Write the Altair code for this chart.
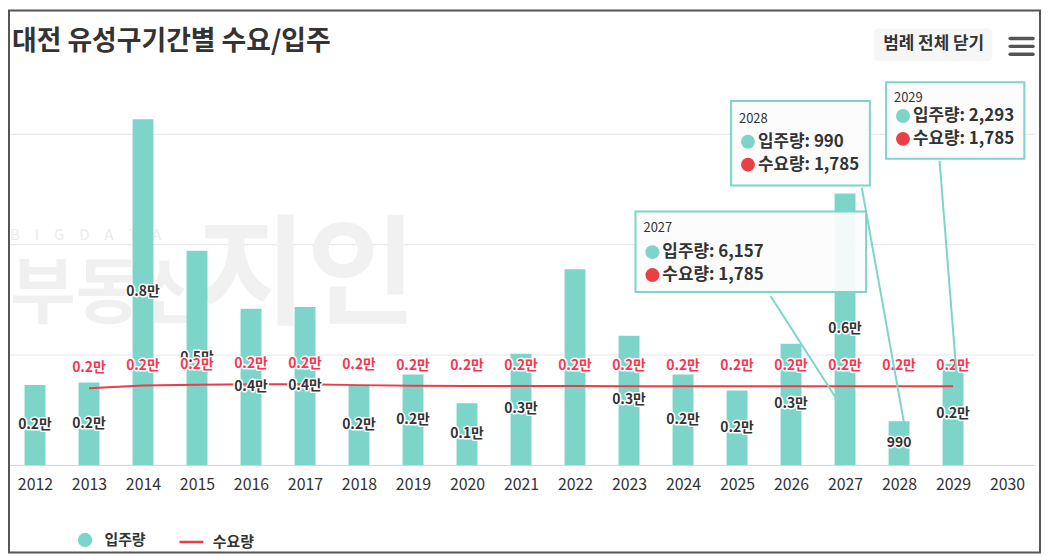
import altair as alt
import pandas as pd

FONT = "Noto Sans CJK KR"

# ---------------- data ----------------
years = list(range(2012, 2031))
supply = [1810, 1870, 7840, 4860, 3540, 3580, 1800, 2050, 1400, 2520,
          4440, 2930, 2050, 1690, 2750, 6157, 990, 2293, None]
supply_labels = ["0.2만", "0.2만", "0.8만", "0.5만", "0.4만", "0.4만", "0.2만", "0.2만", "0.1만", "0.3만",
                 "", "0.3만", "0.2만", "0.2만", "0.3만", "0.6만", "990", "0.2만", ""]
demand_years = list(range(2013, 2030))
demand = [1740, 1800, 1820, 1830, 1830, 1810, 1795, 1790, 1790, 1790,
          1785, 1785, 1785, 1785, 1785, 1785, 1785]
demand_labels = ["0.2만"] * len(demand_years)

# tooltip callouts (data space)
tip_year = [2027, 2028, 2029]
tip_supply = [6157, 990, 2293]
tip_demand = [1785, 1785, 1785]
box_x0 = [2023.12, 2024.89, 2027.76]
box_x1 = [2027.39, 2027.46, 2030.32]
box_top = [5749, 8252, 8680]
box_bot = [3923, 6336, 6944]
row_year_y = [5366, 7846, 8320]
row1_y = [4825, 7328, 7914]
row2_y = [4306, 6809, 7395]
conn_x0 = [2025.62, 2027.31, 2028.75]
conn_y0 = [3833, 6290, 6899]
conn_x1 = [2026.87, 2028.09, 2029.08]
conn_y1 = [1443, 970, 1826]

TEAL = "#7cd5c8"
RED = "#ee3b48"
RED_TXT = "#f7374f"

bars_df = pd.DataFrame({"year": years, "supply": supply, "label": supply_labels,
                        "series": "입주량"}).dropna(subset=["supply"])
line_df = pd.DataFrame({"year": demand_years, "demand": demand, "label": demand_labels,
                        "series": "수요량"})
tips_df = pd.DataFrame({
    "year": tip_year, "x0": box_x0, "x1": box_x1, "top": box_top, "bot": box_bot,
    "yy": row_year_y, "y1": row1_y, "y2": row2_y,
    "cx0": conn_x0, "cy0": conn_y0, "cx1": conn_x1, "cy1": conn_y1,
    "t1": [f"입주량: {v:,}" for v in tip_supply],
    "t2": [f"수요량: {v:,}" for v in tip_demand],
    "ytxt": [str(y) for y in tip_year],
})
one = pd.DataFrame({"a": [0]})

xscale = alt.Scale(domain=[2011.5, 2030.5], nice=False, zero=False, padding=0)
yscale = alt.Scale(domain=[0, 8500], nice=False, padding=0)

xaxis = alt.Axis(values=years, format="d", title=None, grid=False, ticks=False,
                 labelFont=FONT, labelFontSize=16, labelColor="#333",
                 domainColor="#ccd6eb", labelPadding=12, labelFlush=False)
yaxis = alt.Axis(values=[0, 2500, 5000, 7500], title=None, labels=False, ticks=False,
                 domain=False, grid=True, gridColor="#e6e6e6")


def X(f):
    return alt.X(f, type="quantitative", scale=xscale, axis=xaxis)


def Y(f):
    return alt.Y(f, type="quantitative", scale=yscale, axis=yaxis)


leg_common = dict(title=None, orient="none", direction="horizontal", padding=0,
                  labelFont=FONT, labelFontSize=15, labelFontWeight="bold", labelColor="#333")
legend_bar = alt.Legend(legendX=70, legendY=445, symbolType="circle", symbolSize=210,
                        symbolStrokeWidth=0, symbolOpacity=1, labelOffset=12, **leg_common)
legend_line = alt.Legend(legendX=171, legendY=441, symbolType="stroke", symbolSize=576,
                         symbolStrokeWidth=2.5, labelOffset=8, **leg_common)

# frame
frame = alt.Chart(one).mark_rect(fillOpacity=0, stroke="#555", strokeWidth=2).encode(
    x=alt.value(1), x2=alt.value(1038), y=alt.value(-80), y2=alt.value(465))

# watermark
SP = "\u2003"
wm1 = alt.Chart(one).mark_text(text=SP.join("BIGDATA"), font=FONT, fontSize=15,
                               color="#ebebeb", align="left", baseline="middle").encode(
    x=alt.value(2), y=alt.value(146))
wm2 = alt.Chart(one).mark_text(text="부동산", font=FONT, fontSize=72, fontWeight="bold",
                               color="#f0f0f0", align="left", baseline="middle").encode(
    x=alt.value(2), y=alt.value(206))
wm3 = alt.Chart(one).mark_text(text="지인", font=FONT, fontSize=120, fontWeight="bold",
                               color="#f1f1f1", align="left", baseline="middle").encode(
    x=alt.value(190), y=alt.value(190))

bars = alt.Chart(bars_df).mark_bar(size=21).encode(
    x=X("year"), y=Y("supply"),
    color=alt.Color("series:N", scale=alt.Scale(domain=["입주량"], range=[TEAL]), legend=legend_bar),
)

line = alt.Chart(line_df).mark_line(strokeWidth=2).encode(
    x=X("year"), y=Y("demand"),
    stroke=alt.Stroke("series:N", scale=alt.Scale(domain=["수요량"], range=[RED]), legend=legend_line),
)

bar_mid = alt.Chart(bars_df).transform_calculate(mid="datum.supply / 2")
bl_halo = bar_mid.mark_text(font=FONT, fontSize=14, fontWeight="bold", stroke="white",
                            strokeWidth=3, strokeJoin="round", fill="white",
                            baseline="middle").encode(x=X("year"), y=Y("mid"), text="label:N")
bl = bar_mid.mark_text(font=FONT, fontSize=14, fontWeight="bold", fill="#333",
                       baseline="middle").encode(x=X("year"), y=Y("mid"), text="label:N")

rl_halo = alt.Chart(line_df).mark_text(font=FONT, fontSize=14, fontWeight="bold", stroke="white",
                                       strokeWidth=3, strokeJoin="round", fill="white",
                                       baseline="middle", dy=-20).encode(
    x=X("year"), y=Y("demand"), text="label:N")
rl = alt.Chart(line_df).mark_text(font=FONT, fontSize=14, fontWeight="bold", fill=RED_TXT,
                                  baseline="middle", dy=-20).encode(
    x=X("year"), y=Y("demand"), text="label:N")

tips = alt.Chart(tips_df)
conn = tips.mark_rule(color=TEAL, strokeWidth=2).encode(
    x=X("cx0"), y=Y("cy0"), x2="cx1:Q", y2="cy1:Q")
boxes = tips.mark_rect(fill="#fcfcfc", fillOpacity=0.92, stroke=TEAL, strokeWidth=2).encode(
    x=X("x0"), x2="x1:Q", y=Y("top"), y2="bot:Q")
tyear = tips.mark_text(font=FONT, fontSize=13, fill="#333", align="left", baseline="middle",
                       dx=8).encode(x=X("x0"), y=Y("yy"), text="ytxt:N")
c1 = tips.mark_point(filled=True, size=196, shape="circle", color=TEAL, opacity=1, xOffset=17).encode(
    x=X("x0"), y=Y("y1"))
c2 = tips.mark_point(filled=True, size=196, shape="circle", color="#e94046", opacity=1, xOffset=17).encode(
    x=X("x0"), y=Y("y2"))
t1 = tips.mark_text(font=FONT, fontSize=17, fontWeight="bold", fill="#333", align="left",
                    baseline="middle", dx=27).encode(x=X("x0"), y=Y("y1"), text="t1:N")
t2 = tips.mark_text(font=FONT, fontSize=17, fontWeight="bold", fill="#333", align="left",
                    baseline="middle", dx=27).encode(x=X("x0"), y=Y("y2"), text="t2:N")

# UI decorations: legend toggle button + menu icon
btn = alt.Chart(one).mark_rect(fill="#f6f6f6", cornerRadius=4).encode(
    x=alt.value(871), x2=alt.value(990), y=alt.value(-62), y2=alt.value(-29))
btn_t = alt.Chart(one).mark_text(text="범례 전체 닫기", font=FONT, fontSize=17, fontWeight="bold",
                                 fill="#333", align="center", baseline="middle").encode(
    x=alt.value(931), y=alt.value(-46))
menu = [alt.Chart(one).mark_rule(color="#555", strokeWidth=3.5, strokeCap="round").encode(
    x=alt.value(1008), x2=alt.value(1031), y=alt.value(v)) for v in (-52, -44, -36)]

chart = alt.layer(
    frame, wm1, wm2, wm3, bars, line, bl_halo, bl, rl_halo, rl,
    conn, boxes, tyear, c1, c2, t1, t2, btn, btn_t, *menu
).resolve_scale(color="independent", stroke="independent").properties(
    width=1032, height=377,
    title=alt.TitleParams("대전 유성구기간별 수요/입주", anchor="start", font=FONT, fontSize=27,
                          fontWeight="bold", color="#333", offset=0, dx=4, dy=47),
    autosize=alt.AutoSizeParams(type="none"),
    padding={"left": 0, "top": 81, "right": 8, "bottom": 90},
).configure_view(stroke=None)

chart.save("out.html", embed_options={"renderer": "svg", "actions": False})
